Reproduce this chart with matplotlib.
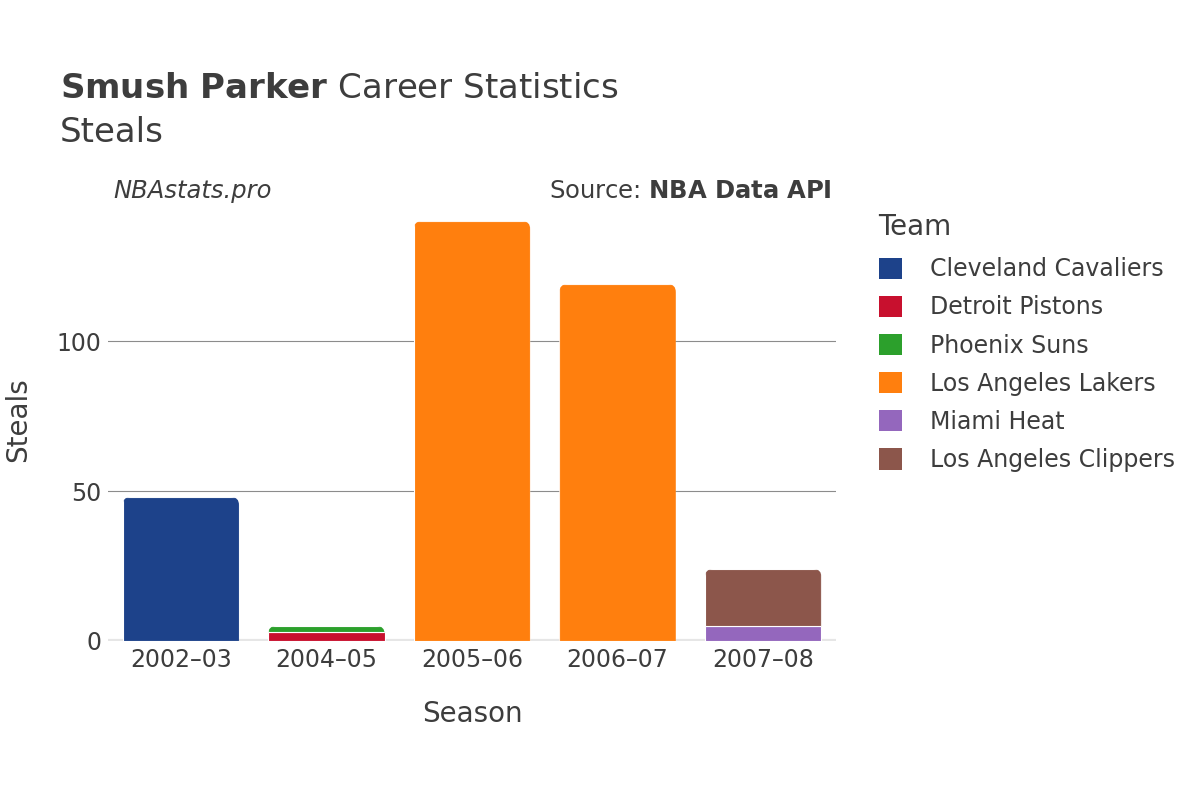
import numpy as np
import matplotlib.pyplot as plt
from matplotlib.patches import Patch, FancyBboxPatch

seasons = ['2002–03', '2004–05', '2005–06', '2006–07', '2007–08']
teams = ['Cleveland Cavaliers', 'Detroit Pistons', 'Phoenix Suns',
         'Los Angeles Lakers', 'Miami Heat', 'Los Angeles Clippers']
colors = ['#1d428a', '#c8102e', '#2ca02c', '#ff7f0e', '#9467bd', '#8c564b']

# steals per team per season (stacked in this order)
cavaliers = [48, 0, 0, 0, 0]
pistons = [0, 3, 0, 0, 0]
suns = [0, 2, 0, 0, 0]
lakers = [0, 0, 140, 119, 0]
heat = [0, 0, 0, 0, 5]
clippers = [0, 0, 0, 0, 19]
series = [cavaliers, pistons, suns, lakers, heat, clippers]

txt = '#3d3d3d'
plt.rcParams['font.family'] = ['DejaVu Sans']

fig = plt.figure(figsize=(12, 8), dpi=100)
ax = fig.add_axes([108 / 1200, 1 - 641 / 800, 728 / 1200, 442 / 800])

ymax = 147.4
ax.set_xlim(-0.5, 4.5)
ax.set_ylim(0, ymax)

x = np.arange(len(seasons))
width = 0.8
totals = np.sum(series, axis=0)
bottom = np.zeros(len(seasons))
for vals, col in zip(series, colors):
    v = np.array(vals, dtype=float)
    mask = v > 0
    bars = ax.bar(x[mask], v[mask], width=width, bottom=bottom[mask], color=col,
                  edgecolor='white', linewidth=0.8, zorder=3)
    # round the top corners of the topmost segment of each stack
    for b, xi in zip(bars, x[mask]):
        if np.isclose(bottom[xi] + v[xi], totals[xi]):
            r = 0.055                       # radius in x data units (~8 px)
            aspect = (ymax / 442) / (5 / 728)  # y units per x unit in pixels
            clip = FancyBboxPatch((xi - width / 2, -20), width, totals[xi] + 20,
                                  boxstyle=f'round,pad=0,rounding_size={r}',
                                  mutation_aspect=aspect, transform=ax.transData)
            b.set_clip_path(clip)
    bottom += v

ax.set_yticks([0, 50, 100])
ax.set_xticks(x)
ax.set_xticklabels(seasons)
ax.tick_params(axis='both', length=0, labelsize=17, colors=txt, pad=5)
ax.grid(axis='y', color='#8c8c8c', linewidth=0.8, zorder=0)
ax.axhline(0, color='#e6e6e6', linewidth=3, zorder=2)
for s in ax.spines.values():
    s.set_visible(False)

ax.set_xlabel('Season', fontsize=20, color=txt, labelpad=20)
ax.set_ylabel('Steals', fontsize=20, color=txt, labelpad=17)

fig.text(60 / 1200, 1 - 88 / 800, r'$\bf{Smush\ Parker}$ Career Statistics',
         fontsize=24.5, color=txt, va='center')
fig.text(60 / 1200, 1 - 132 / 800, 'Steals', fontsize=24.5, color=txt, va='center')

fig.text(113 / 1200, 1 - 191 / 800, 'NBAstats.pro', fontsize=17.5, style='italic',
         color=txt, va='center')
fig.text(832 / 1200, 1 - 191 / 800, r'Source: $\bf{NBA\ Data\ API}$', fontsize=17.5,
         color=txt, va='center', ha='right')

handles = [Patch(facecolor=c, label=t) for t, c in zip(teams, colors)]
leg = fig.legend(handles=handles, title='Team', loc='upper left',
                 bbox_to_anchor=(862 / 1200, 1 - 196 / 800), frameon=False,
                 fontsize=17, title_fontsize=20, labelcolor=txt,
                 handlelength=1.0, handleheight=1.0, handletextpad=1.2,
                 labelspacing=0.6, borderpad=0.2)
leg.get_title().set_color(txt)
leg._legend_box.align = 'left'
leg._legend_box.sep = 12

fig.savefig('out.png', dpi=100)
